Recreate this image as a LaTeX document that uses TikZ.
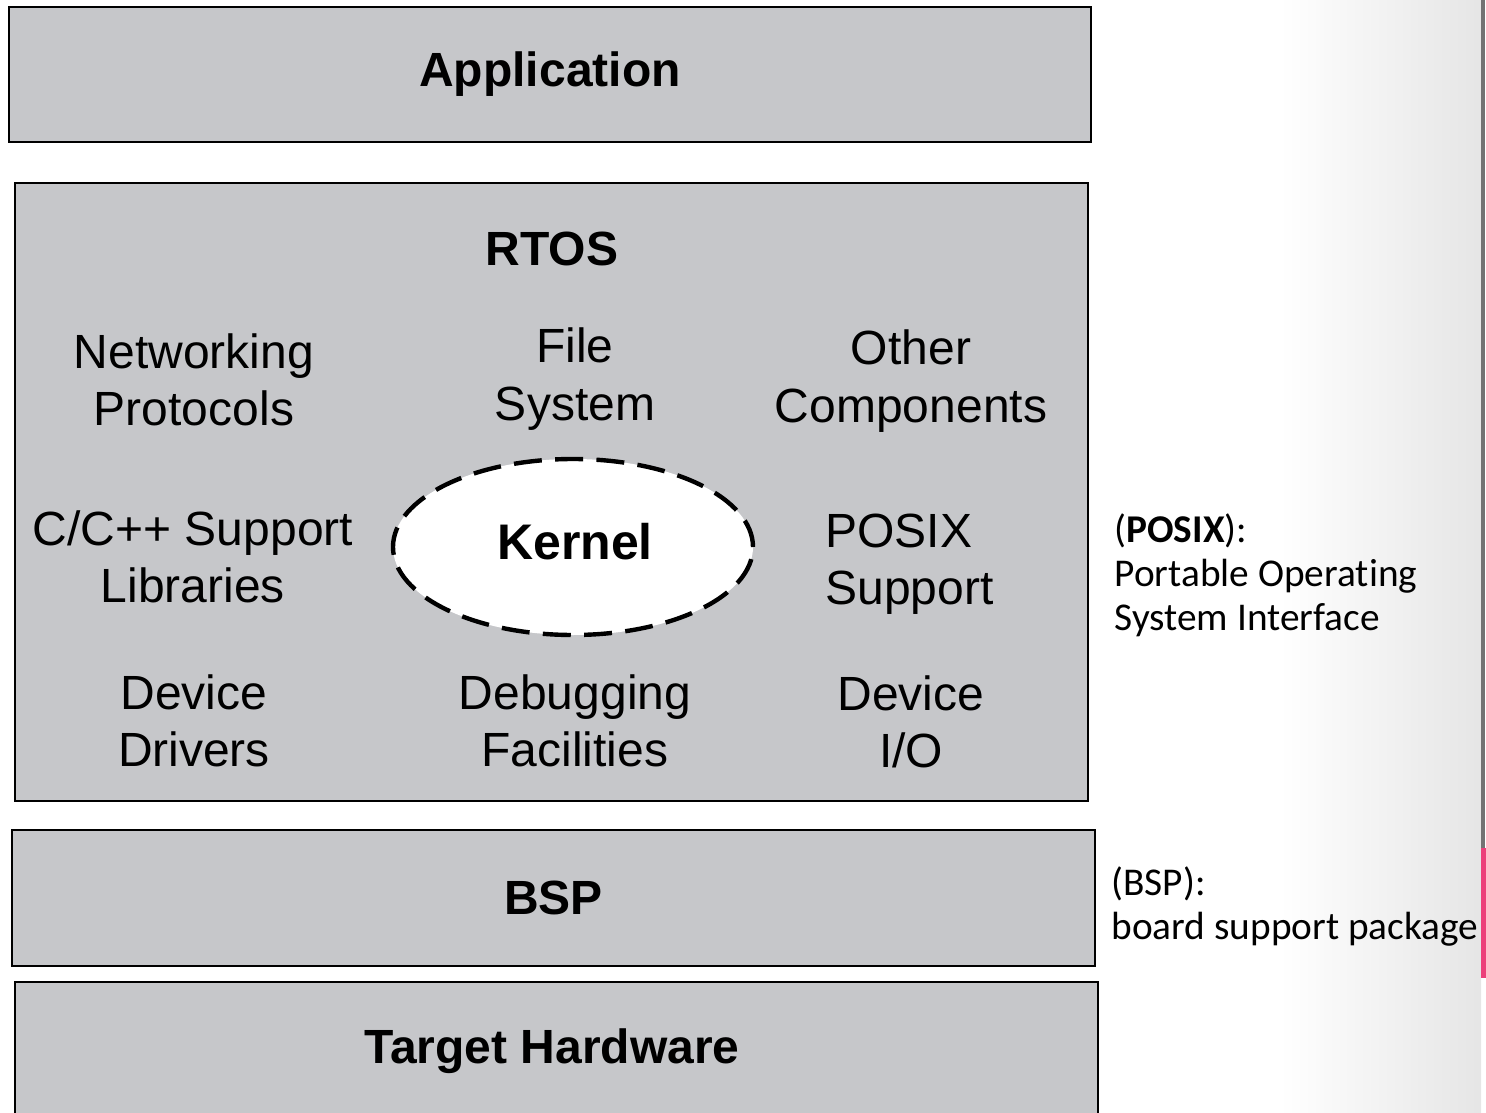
\documentclass[tikz,border=0pt]{standalone}
\usepackage{fontspec}
\setmainfont{Liberation Sans}
\newfontfamily\notefont[Ligatures=NoCommon]{Carlito}
\usetikzlibrary{shapes.geometric}
\definecolor{layergray}{HTML}{C6C7CA}
\definecolor{notepink}{HTML}{EC407A}
\tikzset{every picture/.style={line width=0.75pt}}
\tikzset{
  layerbox/.style={draw=black, fill=layergray, line width=2.2pt, inner sep=0pt,
    font=\fontsize{36}{43}\selectfont\bfseries},
  layertitle/.style={inner sep=0.75pt, font=\fontsize{36}{43}\selectfont\bfseries},
  parttext/.style={inner sep=0.75pt, align=center, font=\fontsize{36}{43}\selectfont},
  sidenote/.style={inner sep=0.75pt, align=left, anchor=west, font=\notefont\fontsize{29.5}{33}\selectfont},
  kernelring/.style={ellipse, draw=black, fill=white, line width=3.3pt,
    dash pattern={on 21pt off 10pt}, minimum width=270pt, minimum height=132pt, inner sep=0pt}
}

\begin{document}
\begin{tikzpicture}[x=0.75pt,y=0.75pt,yscale=-1,xscale=1]
\useasboundingbox (0,0) rectangle (1486,1113);
\clip (0,0) rectangle (1486,1113);

%Shape: slide edge
\shade[left color=white, right color=black!10] (1280,0) rectangle (1481,1113);
\draw[color=black!55, line width=2.5pt] (1483,0) -- (1483,848);
\fill[notepink] (1481,848) rectangle (1486,978);

%Shape: Rectangle [layers]
\node[layerbox, minimum width=811.5pt, minimum height=101.25pt] (app) at (550,74.5) {Application};
\node[layerbox, minimum width=804.75pt, minimum height=463.5pt] (rtos) at (551.5,492) {};
\node[layerbox, minimum width=812.25pt, minimum height=102pt] (bsp) at (553.5,898) {BSP};
\node[layerbox, minimum width=812.25pt, minimum height=120pt] (hw) at (556.5,1062) {};

%Shape: Ellipse [kernel]
\node[kernelring] (kernel) at (573,547) {};

% Text Node
\node[layertitle] (rtoslabel) at (552,249) {RTOS};
% Text Node
\node[layertitle, font=\fontsize{37.5}{43}\selectfont\bfseries] (kernellabel) at (575,542) {Kernel};
% Text Node
\node[layertitle] (hwlabel) at (552,1051) {Target Hardware};
% Text Node
\node[parttext] (net) at (194,380) {Networking\\Protocols};
% Text Node
\node[parttext] (fs) at (575,379) {File\\System};
% Text Node
\node[parttext] (other) at (911,381) {Other\\Components};
% Text Node
\node[parttext] (libs) at (193,557) {C/C++ Support\\Libraries};
% Text Node
\node[parttext, align=left, anchor=west] (posix) at (824,564) {POSIX\\Support};
% Text Node
\node[parttext] (drivers) at (194,721) {Device\\Drivers};
% Text Node
\node[parttext] (debug) at (575,721) {Debugging\\Facilities};
% Text Node
\node[parttext] (devio) at (911,722) {Device\\I/O};

% Text Node
\node[sidenote] (posixnote) at (1113,575) {(\textbf{POSIX}):\\Portable Operating\\System Interface};
% Text Node
\node[sidenote] (bspnote) at (1110,906) {(BSP):\\board support package};
\end{tikzpicture}
\end{document}
